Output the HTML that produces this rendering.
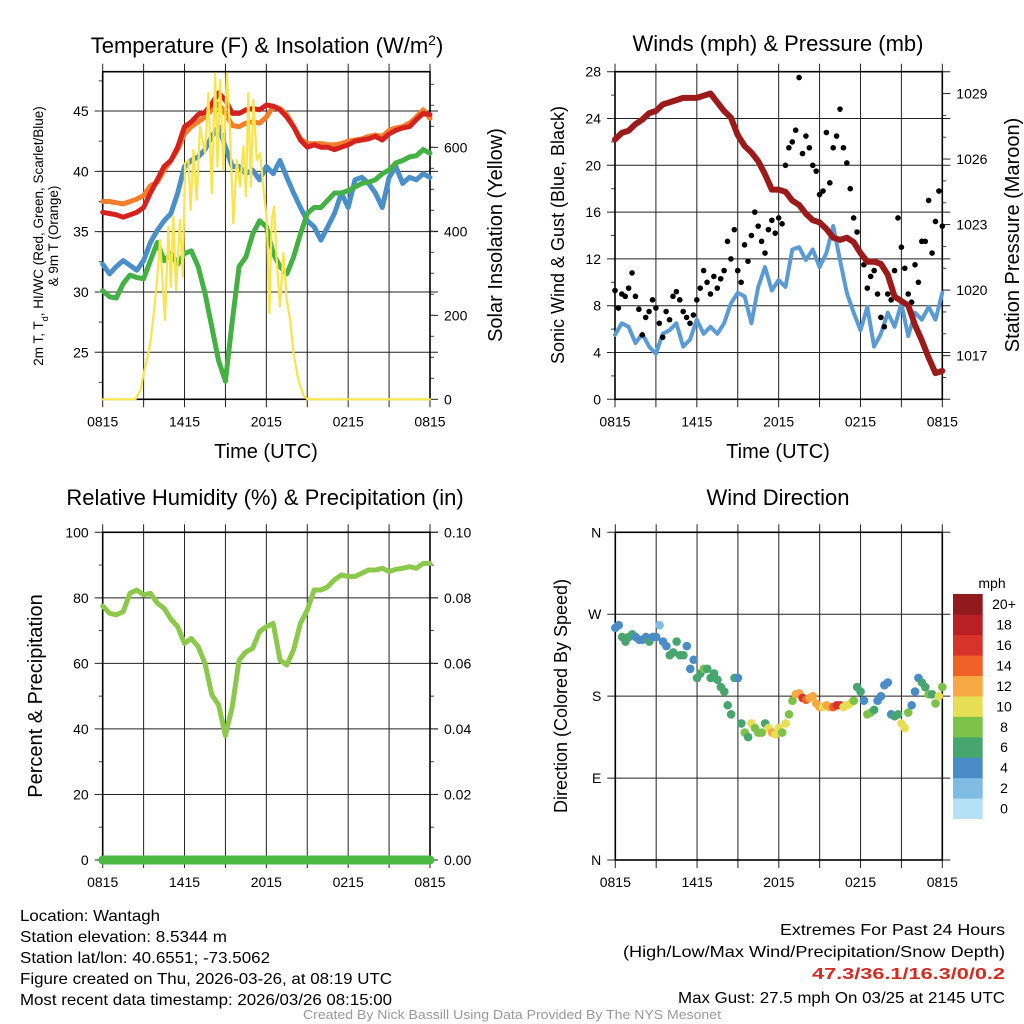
<!DOCTYPE html>
<html><head><meta charset="utf-8"><style>
html,body{margin:0;padding:0;background:#fff}
svg{display:block;font-family:"Liberation Sans",sans-serif}
</style></head><body>
<svg id="s" width="1024" height="1024" viewBox="0 0 1024 1024" xmlns="http://www.w3.org/2000/svg">
<rect width="1024" height="1024" fill="#fff"/>
<g id="g"></g>
<text x="267" y="53" font-size="22" text-anchor="middle">Temperature (F) &amp; Insolation (W/m<tspan baseline-shift="super" font-size="14">2</tspan>)</text>
<text x="778" y="51" font-size="22" text-anchor="middle">Winds (mph) &amp; Pressure (mb)</text>
<text x="265" y="505" font-size="22" text-anchor="middle">Relative Humidity (%) &amp; Precipitation (in)</text>
<text x="778" y="505" font-size="22" text-anchor="middle">Wind Direction</text>
<text x="266" y="458" font-size="20" text-anchor="middle">Time (UTC)</text>
<text x="778" y="458" font-size="20" text-anchor="middle">Time (UTC)</text>
<text transform="translate(43,236) rotate(-90)" font-size="13.5" text-anchor="middle">2m T, T<tspan baseline-shift="sub" font-size="9">d</tspan>, HI/WC (Red, Green, Scarlet/Blue)</text>
<text transform="translate(58,236) rotate(-90)" font-size="13.5" text-anchor="middle">&amp; 9m T (Orange)</text>
<text transform="translate(502,235) rotate(-90)" font-size="20" text-anchor="middle">Solar Insolation (Yellow)</text>
<text transform="translate(564,235) rotate(-90)" font-size="18" text-anchor="middle">Sonic Wind &amp; Gust (Blue, Black)</text>
<text transform="translate(1019,235) rotate(-90)" font-size="20" text-anchor="middle">Station Pressure (Maroon)</text>
<text transform="translate(42,696) rotate(-90)" font-size="20" text-anchor="middle">Percent &amp; Precipitation</text>
<text transform="translate(567,696) rotate(-90)" font-size="18" text-anchor="middle">Direction (Colored By Speed)</text>
<text x="992" y="588" font-size="14" text-anchor="middle">mph</text>
<g font-size="16">
<text x="20" y="921" textLength="140" lengthAdjust="spacingAndGlyphs">Location: Wantagh</text>
<text x="20" y="942" textLength="207" lengthAdjust="spacingAndGlyphs">Station elevation: 8.5344 m</text>
<text x="20" y="963" textLength="250" lengthAdjust="spacingAndGlyphs">Station lat/lon: 40.6551; -73.5062</text>
<text x="20" y="984" textLength="372" lengthAdjust="spacingAndGlyphs">Figure created on Thu, 2026-03-26, at 08:19 UTC</text>
<text x="20" y="1005" textLength="372" lengthAdjust="spacingAndGlyphs">Most recent data timestamp: 2026/03/26 08:15:00</text>
</g>
<g font-size="16">
<text x="780" y="935" textLength="225" lengthAdjust="spacingAndGlyphs">Extremes For Past 24 Hours</text>
<text x="623" y="957" textLength="382" lengthAdjust="spacingAndGlyphs">(High/Low/Max Wind/Precipitation/Snow Depth)</text>
<text x="812" y="979" textLength="193" lengthAdjust="spacingAndGlyphs" font-weight="bold" fill="#d42a24">47.3/36.1/16.3/0/0.2</text>
<text x="678" y="1003" textLength="327" lengthAdjust="spacingAndGlyphs">Max Gust: 27.5 mph On 03/25 at 2145 UTC</text>
</g>
<text x="512" y="1019" font-size="12.5" fill="#999" text-anchor="middle" textLength="418" lengthAdjust="spacingAndGlyphs">Created By Nick Bassill Using Data Provided By The NYS Mesonet</text>
</svg>
<script>
// ---- data (half-hourly unless noted), hours since 0815 UTC ----
const xTickLabels = ["0815","1415","2015","0215","0815"];
const tempRed = [36.6,36.5,36.4,36.2,36.4,36.6,37.0,38.2,39.3,40.4,40.9,42.0,43.7,44.1,44.7,44.9,45.6,46.5,45.9,44.8,44.8,45.1,45.2,45.1,45.5,45.4,45.1,44.5,43.7,42.6,42.0,42.2,42.0,42.0,41.8,42.0,42.2,42.5,42.6,42.7,42.9,42.6,43.1,43.4,43.6,43.7,44.3,44.8,44.7];
const tempOrange = [37.5,37.5,37.4,37.3,37.5,37.7,38.0,38.8,39.1,40.1,40.9,41.8,43.1,43.7,44.1,44.5,45.1,45.6,44.8,43.8,43.7,44.0,44.1,44.0,44.5,45.4,45.2,44.7,43.7,42.7,42.3,42.3,42.3,42.2,42.2,42.3,42.5,42.6,42.7,42.9,43.0,42.9,43.4,43.6,43.7,44.0,44.5,45.1,44.4];
const tempBlue = [32.3,31.5,32.1,32.6,32.2,31.8,32.6,34.1,35.1,35.9,36.5,38.2,40.4,40.9,41.2,41.8,42.9,43.7,42.0,40.4,40.4,39.8,40.1,39.3,40.4,39.8,40.9,39.5,38.2,37.0,35.9,35.4,34.3,35.4,36.5,38.2,37.0,39.3,39.5,39.0,38.2,37.0,39.5,40.4,39.0,39.5,39.3,39.8,39.5];
const tempGreen = [30.1,29.6,29.5,30.7,31.4,31.2,31.1,32.6,34.1,32.6,33.2,32.3,33.2,33.4,32.1,29.9,27.1,24.3,22.6,27.6,32.1,32.9,34.8,35.9,35.4,33.2,32.1,31.5,32.9,34.8,36.5,37.0,37.0,37.6,38.2,38.2,38.4,38.7,39.0,39.1,39.3,39.8,40.1,40.7,40.9,41.2,41.3,41.8,41.5];
const solarTimes = [0,2.4,2.75,3.0,3.25,3.5,3.75,4.0,4.2,4.57,4.82,4.99,5.18,5.38,5.67,5.87,6.04,6.28,6.45,6.65,6.89,7.14,7.51,7.75,8.0,8.24,8.41,8.61,8.85,9.1,9.34,9.58,9.83,10.07,10.32,10.51,10.68,10.86,11.05,11.3,11.54,11.78,12.03,12.22,12.4,12.57,12.76,13.0,13.25,13.5,13.74,13.99,14.35,14.72,15.01,24];
const solarValues = [0,0,20,60,95,135,205,290,379,189,411,268,435,260,427,292,562,570,451,594,475,649,586,729,490,776,554,760,546,776,633,419,570,506,602,483,729,506,713,570,586,506,427,205,427,459,332,221,348,237,189,110,46,10,0,0];
const windAvg = [5.5,6.5,6.2,4.8,5.6,4.5,3.9,5.6,5.9,6.5,4.5,5.1,6.8,5.6,6.2,5.6,6.5,8.2,9.1,8.8,6.5,9.6,11.3,9.3,10.2,9.6,12.8,13.0,11.9,12.8,11.3,12.5,14.8,11.9,9.1,7.4,5.9,7.9,4.5,5.6,7.4,6.2,8.2,5.4,7.4,6.8,7.9,6.8,9.1];
// gusts: every 15 minutes
const windGust = [9.3,7.8,9.0,8.8,9.5,10.8,8.8,7.7,5.5,7.0,7.5,8.5,7.8,6.5,5.3,7.5,6.8,8.8,9.2,8.5,7.5,7.0,6.5,7.2,8.5,9.5,11.0,10.0,9.0,10.5,9.5,10.3,11.0,13.5,12.0,14.5,11.0,10.0,13.2,11.8,14.0,16.0,14.8,13.5,12.5,14.5,15.3,14.2,15.5,15.0,20.0,21.5,22.0,23.0,27.5,21.0,22.5,21.5,20.0,19.5,17.5,17.8,22.8,18.5,21.5,22.5,24.8,21.5,20.2,18.0,15.5,14.3,12.5,11.5,9.5,10.5,11.0,9.0,7.0,6.2,9.0,8.5,11.0,15.5,13.0,11.2,9.0,8.3,11.5,10.0,13.5,13.5,17.0,12.5,15.2,17.8,14.8];
const pressure = [1026.9,1027.2,1027.3,1027.6,1027.8,1028.1,1028.2,1028.5,1028.6,1028.7,1028.8,1028.8,1028.8,1028.9,1029.0,1028.6,1028.2,1027.9,1027.1,1026.6,1026.3,1025.9,1025.3,1024.6,1024.6,1024.5,1024.1,1023.9,1023.5,1023.2,1023.1,1022.8,1022.4,1022.3,1022.4,1022.2,1021.7,1021.3,1021.3,1021.2,1020.7,1019.7,1019.5,1019.3,1018.4,1017.7,1016.9,1016.2,1016.3];
const humidity = [77.5,75.3,74.8,75.8,81.4,82.4,80.9,81.4,78.4,76.8,73.5,71.2,66.1,67.6,65.1,60.0,50.4,47.3,38.0,46.8,61.0,63.5,64.6,69.7,71.2,72.2,61.0,59.5,64.1,72.2,76.3,82.4,82.4,83.4,85.5,87.0,86.5,86.5,87.5,88.5,88.5,89.0,88.0,88.7,89.0,89.5,89.0,90.5,90.5];
const precip = [0,0,0,0,0,0,0,0,0,0,0,0,0,0,0,0,0,0,0,0,0,0,0,0,0,0,0,0,0,0,0,0,0,0,0,0,0,0,0,0,0,0,0,0,0,0,0,0,0];
// wind direction (deg) & speed (mph) every 15 minutes
const windDir = [255,258,245,240,245,248,245,242,242,245,240,245,245,258,240,235,225,228,240,225,225,235,210,220,200,205,210,210,200,205,198,190,185,170,160,200,200,150,140,135,150,145,140,140,150,145,140,138,145,140,150,160,175,182,183,178,176,178,180,172,168,168,170,168,168,170,170,168,170,172,175,190,185,175,160,162,165,175,180,192,195,160,158,160,150,145,162,170,185,200,195,190,182,182,172,180,190];
const windDirSpeed = [4,4,6,6,6,6,4,4,4,4,6,4,4,2,4,4,6,6,6,6,6,4,4,4,6,6,8,6,6,6,6,6,6,6,6,6,4,6,8,6,10,8,8,8,6,10,12,10,10,8,10,8,8,12,12,16,14,12,12,12,12,10,12,12,14,16,16,10,10,10,8,6,6,4,8,8,6,4,4,4,4,4,6,6,10,10,8,4,4,4,6,6,8,6,8,10,8];
const speedBins = ["0","2","4","6","8","10","12","14","16","18","20+"];
const speedColors = ["#b4e1f6","#7fbbe2","#4a8dc6","#47a670","#7cc14a","#e6df55","#f6a942","#ef6128","#d8332b","#bb1f26","#901a1d"];

const NS="http://www.w3.org/2000/svg";
const G=document.getElementById('g');
function mk(tag,attrs,parent){const e=document.createElementNS(NS,tag);for(const k in attrs)e.setAttribute(k,attrs[k]);(parent||G).appendChild(e);return e;}
function panel(l,r,t,b){return {l,r,t,b,x:h=>l+h/24*(r-l)};}
function lin(d0,d1,p0,p1){return v=>p0+(v-d0)/(d1-d0)*(p1-p0);}
const P1=panel(102.7,430,71.7,399.3),P2=panel(615,942.3,71.7,399.3),P3=panel(102.7,430,532.3,860),P4=panel(615.3,942.3,532.3,860);
const y1=lin(21.1,48.26,399.3,71.7), y1r=lin(0,780,399.3,71.7);
const y2=lin(0,28,399.3,71.7), y2r=lin(1015,1030,399.3,71.7);
const y3=lin(0,100,860,532.3), y3r=lin(0,0.1,860,532.3);
const y4=lin(0,360,860,532.3);

function frame(P,name,leftTicks,leftMinor,leftY,rightTicks,rightMinor,rightY){
  const g=mk('g',{});
  
  
  for(let k=0;k<=8;k++){const x=P.l+k*(P.r-P.l)/8;
    const ln=mk('line',{x1:x,x2:x,y1:P.t-8,y2:P.b+8,stroke:'#222','stroke-width':1},g);
    
    }
  xTickLabels.forEach((s,i)=>{const x=P.l+i*(P.r-P.l)/4;
    const tx=mk('text',{x:x,y:P.b+27,'font-size':14,'text-anchor':'middle'},g);tx.textContent=s;
    
    });
  leftTicks.forEach(v=>{const y=leftY(v.v);
    const ln=mk('line',{x1:P.l-8,x2:P.r+8,y1:y,y2:y,stroke:'#222','stroke-width':1},g);
    
    
    const tx=mk('text',{x:P.l-14,y:y+5,'font-size':14,'text-anchor':'end'},g);tx.textContent=v.s;
    
    });
  leftMinor.forEach(v=>{const y=leftY(v);if(y<P.t-1||y>P.b+1)return;mk('line',{x1:P.l-4,x2:P.l,y1:y,y2:y,stroke:'#444','stroke-width':1},g);});
  rightTicks.forEach(v=>{const y=rightY(v.v);
    mk('line',{x1:P.r,x2:P.r+8,y1:y,y2:y,stroke:'#222','stroke-width':1},g);
    const tx=mk('text',{x:P.r+14,y:y+5,'font-size':14},g);tx.textContent=v.s;
    
    });
  rightMinor.forEach(v=>{const y=rightY(v);if(y<P.t-1||y>P.b+1)return;mk('line',{x1:P.r,x2:P.r+4,y1:y,y2:y,stroke:'#444','stroke-width':1},g);});
  const rc=mk('rect',{x:P.l,y:P.t,width:P.r-P.l,height:P.b-P.t,fill:'none',stroke:'#000','stroke-width':1.6},g);
  
  
}
const rng=(a,b,s)=>{const o=[];for(let v=a;v<=b+1e-9;v+=s)o.push(+v.toFixed(4));return o;};
frame(P1,'temperature',[45,40,35,30,25].map(v=>({v,s:''+v})),rng(22.5,47.5,2.5),y1,[0,200,400,600].map(v=>({v,s:''+v})),rng(50,750,50),y1r);
frame(P2,'winds',rng(0,28,4).map(v=>({v,s:''+v})),rng(2,26,2),y2,[1017,1020,1023,1026,1029].map(v=>({v,s:''+v})),rng(1016,1030,1),y2r);
frame(P3,'humidity',rng(0,100,20).map(v=>({v,s:''+v})),rng(10,90,10),y3,rng(0,0.1,0.02).map(v=>({v,s:v.toFixed(2)})),rng(0.01,0.09,0.01),y3r);
frame(P4,'direction',[{v:0,s:'N'},{v:90,s:'E'},{v:180,s:'S'},{v:270,s:'W'},{v:360,s:'N'}],[],y4,[],[],y4);

function line(P,times,vals,ys,color,w,name){
  const d=vals.map((v,i)=>(i?'L':'M')+P.x(times(i)).toFixed(1)+','+ys(v).toFixed(1)).join('');
  const p=mk('path',{d,fill:'none',stroke:color,'stroke-width':w,'stroke-linejoin':'round','stroke-linecap':'round'});
  
  
}
const half=i=>i*0.5, quarter=i=>i*0.25;
line(P1,half,tempOrange,y1,'#f47e2b',5,'temp-9m-line');
line(P1,half,tempRed,y1,'#d5221f',5,'temp-2m-line');
line(P1,half,tempBlue,y1,'#4a8fc7',5,'heat-index-wind-chill-line');
line(P1,half,tempGreen,y1,'#45b044',5,'dewpoint-line');
line(P1,i=>solarTimes[i],solarValues,y1r,'#f8e44c',2.2,'solar-insolation-line');

line(P2,half,windAvg,y2,'#5a9bd4',4,'wind-speed-line');
windGust.forEach((v,i)=>{const c=mk('circle',{cx:P2.x(quarter(i)),cy:y2(v),r:2.8,fill:'#000'});
  
  });
line(P2,half,pressure,y2r,'#9b1b1b',6,'pressure-line');

line(P3,half,humidity,y3,'#8cc84b',5,'humidity-line');
line(P3,half,precip,y3r,'#4cb944',9,'precipitation-line');

windDir.forEach((d,i)=>{const b=Math.max(0,Math.min(10,Math.floor(windDirSpeed[i]/2)));
  const c=mk('circle',{cx:P4.x(quarter(i)),cy:y4(d),r:4.3,fill:speedColors[b]});
  
  });

const cbTop=594, cbBot=818.7, cbH=(cbBot-cbTop)/speedBins.length;
speedBins.forEach((s,i)=>{const y=cbBot-(i+1)*cbH;
  const r=mk('rect',{x:953,y:y,width:29.7,height:cbH+0.3,fill:speedColors[i]});
  
  
  const t=mk('text',{x:1004,y:y+cbH/2+5,'font-size':14,'text-anchor':'middle'});t.textContent=s;
  
  });
</script>
</body></html>
